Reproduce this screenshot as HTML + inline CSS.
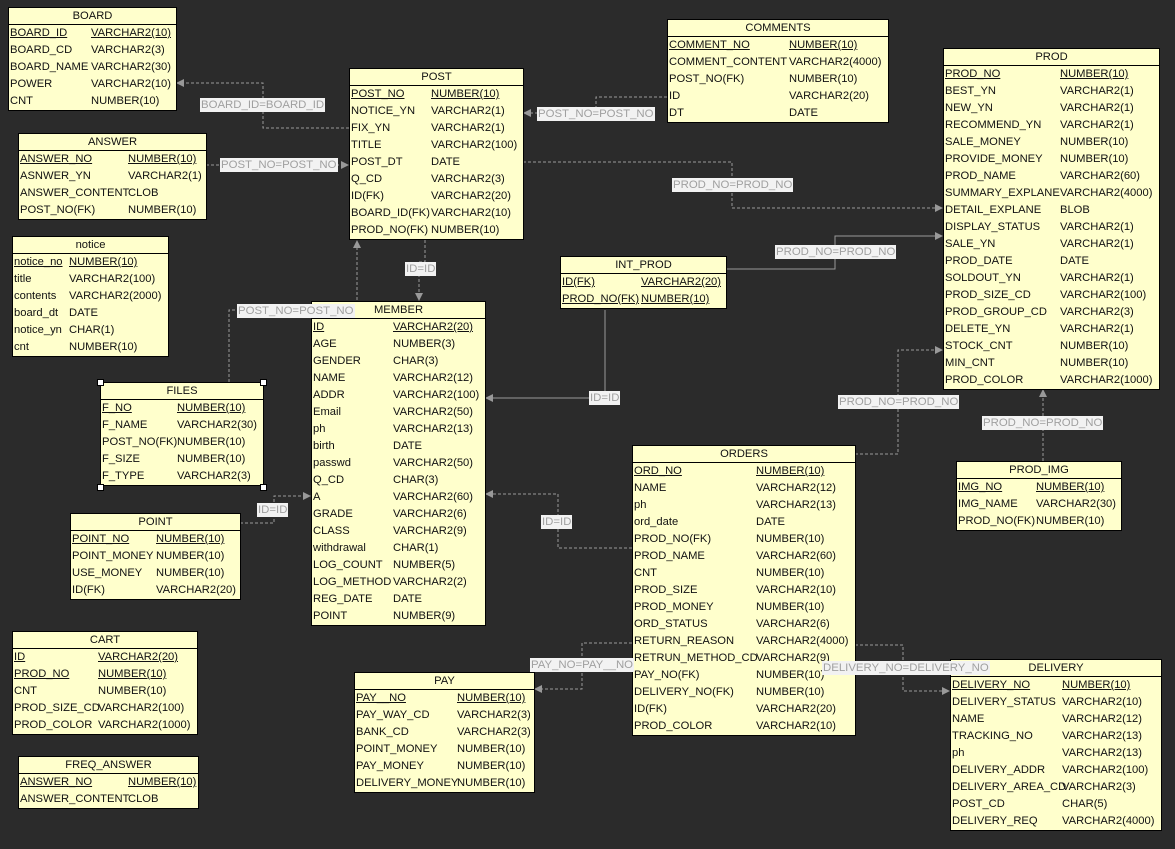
<!DOCTYPE html>
<html><head><meta charset="utf-8"><style>
body{margin:0;width:1175px;height:849px;background:#2b2b2b;position:relative;overflow:hidden;font-family:"Liberation Sans",sans-serif;font-size:11.2px;color:#111}
.t{position:absolute;background:#ffffcc;border:1px solid #000;box-sizing:border-box;z-index:1}
.h{height:16px;line-height:16px;text-align:center;border-bottom:1px solid #000}
.r{height:17px;line-height:17px;white-space:nowrap;position:relative;padding-left:1px}
.r b{font-weight:normal;position:absolute;left:var(--c);top:0}
.u i,.u b{text-decoration:underline}
i{font-style:normal}
.l{position:absolute;background:#f2f2f2;color:#a0a0a0;font-size:11.4px;line-height:14px;padding:0 1px;white-space:nowrap;z-index:2}
svg{position:absolute;left:0;top:0}
.hd{position:absolute;width:5px;height:5px;background:#fff;border:1px solid #000;z-index:2}
</style></head><body>
<svg width="1175" height="849">
<defs><marker id="a" markerWidth="8" markerHeight="8" refX="7" refY="4" orient="auto" markerUnits="userSpaceOnUse"><path d="M0,0 L8,4 L0,8z" fill="#999"/></marker></defs>
<g fill="none" stroke="#999" stroke-width="1" stroke-dasharray="3,2" marker-end="url(#a)">
<polyline points="349,128 263,128 263,83 177,83"/>
<polyline points="206,165 348,165"/>
<polyline points="667,97 596,97 596,113 524,113"/>
<polyline points="523,162 732,162 732,208 942,208"/>
<polyline points="425,240 425,262 419,262 419,300"/>
<polyline points="229,382 229,310 357,310 357,241"/>
<polyline points="240,523 274,523 274,496 310,496"/>
<polyline points="632,548 558,548 558,494 486,494"/>
<polyline points="855,454 898,454 898,350 942,350"/>
<polyline points="1043,461 1043,390"/>
<polyline points="632,643 582,643 582,689 535,689"/>
<polyline points="855,645 903,645 903,691 949,691"/>
</g>
<g fill="none" stroke="#999" stroke-width="1" marker-end="url(#a)">
<polyline points="726,269 835,269 835,236 942,236"/>
<polyline points="605,310 605,398 486,398"/>
</g>
</svg>

<div class="l" style="left:200px;top:98px">BOARD_ID=BOARD_ID</div>
<div class="l" style="left:220px;top:158px">POST_NO=POST_NO</div>
<div class="l" style="left:537px;top:107px">POST_NO=POST_NO</div>
<div class="l" style="left:672px;top:178px">PROD_NO=PROD_NO</div>
<div class="l" style="left:775px;top:245px">PROD_NO=PROD_NO</div>
<div class="l" style="left:405px;top:262px">ID=ID</div>
<div class="l" style="left:237px;top:304px">POST_NO=POST_NO</div>
<div class="l" style="left:589px;top:391px">ID=ID</div>
<div class="l" style="left:838px;top:395px">PROD_NO=PROD_NO</div>
<div class="l" style="left:982px;top:416px">PROD_NO=PROD_NO</div>
<div class="l" style="left:257px;top:503px">ID=ID</div>
<div class="l" style="left:541px;top:515px">ID=ID</div>
<div class="l" style="left:530px;top:658px">PAY_NO=PAY__NO</div>
<div class="l" style="left:822px;top:661px">DELIVERY_NO=DELIVERY_NO</div>

<div class="t" style="left:8px;top:7px;width:169px;--c:82px"><div class="h">BOARD</div>
<div class="r u"><i>BOARD_ID</i><b>VARCHAR2(10)</b></div>
<div class="r"><i>BOARD_CD</i><b>VARCHAR2(3)</b></div>
<div class="r"><i>BOARD_NAME</i><b>VARCHAR2(30)</b></div>
<div class="r"><i>POWER</i><b>VARCHAR2(10)</b></div>
<div class="r"><i>CNT</i><b>NUMBER(10)</b></div></div>

<div class="t" style="left:18px;top:133px;width:189px;--c:109px"><div class="h">ANSWER</div>
<div class="r u"><i>ANSWER_NO</i><b>NUMBER(10)</b></div>
<div class="r"><i>ASNWER_YN</i><b>VARCHAR2(1)</b></div>
<div class="r"><i>ANSWER_CONTENT</i><b>CLOB</b></div>
<div class="r"><i>POST_NO(FK)</i><b>NUMBER(10)</b></div></div>

<div class="t" style="left:12px;top:236px;width:157px;--c:56px"><div class="h">notice</div>
<div class="r u"><i>notice_no</i><b>NUMBER(10)</b></div>
<div class="r"><i>title</i><b>VARCHAR2(100)</b></div>
<div class="r"><i>contents</i><b>VARCHAR2(2000)</b></div>
<div class="r"><i>board_dt</i><b>DATE</b></div>
<div class="r"><i>notice_yn</i><b>CHAR(1)</b></div>
<div class="r"><i>cnt</i><b>NUMBER(10)</b></div></div>

<div class="t" style="left:100px;top:382px;width:164px;--c:76px"><div class="h">FILES</div>
<div class="r u"><i>F_NO</i><b>NUMBER(10)</b></div>
<div class="r"><i>F_NAME</i><b>VARCHAR2(30)</b></div>
<div class="r"><i>POST_NO(FK)</i><b>NUMBER(10)</b></div>
<div class="r"><i>F_SIZE</i><b>NUMBER(10)</b></div>
<div class="r"><i>F_TYPE</i><b>VARCHAR2(3)</b></div></div>
<div class="hd" style="left:97px;top:379px"></div><div class="hd" style="left:260px;top:379px"></div>
<div class="hd" style="left:97px;top:484px"></div><div class="hd" style="left:260px;top:484px"></div>

<div class="t" style="left:70px;top:513px;width:171px;--c:85px"><div class="h">POINT</div>
<div class="r u"><i>POINT_NO</i><b>NUMBER(10)</b></div>
<div class="r"><i>POINT_MONEY</i><b>NUMBER(10)</b></div>
<div class="r"><i>USE_MONEY</i><b>NUMBER(10)</b></div>
<div class="r"><i>ID(FK)</i><b>VARCHAR2(20)</b></div></div>

<div class="t" style="left:12px;top:631px;width:186px;--c:85px"><div class="h">CART</div>
<div class="r u"><i>ID</i><b>VARCHAR2(20)</b></div>
<div class="r u"><i>PROD_NO</i><b>NUMBER(10)</b></div>
<div class="r"><i>CNT</i><b>NUMBER(10)</b></div>
<div class="r"><i>PROD_SIZE_CD</i><b>VARCHAR2(100)</b></div>
<div class="r"><i>PROD_COLOR</i><b>VARCHAR2(1000)</b></div></div>

<div class="t" style="left:18px;top:756px;width:181px;--c:109px"><div class="h">FREQ_ANSWER</div>
<div class="r u"><i>ANSWER_NO</i><b>NUMBER(10)</b></div>
<div class="r"><i>ANSWER_CONTENT</i><b>CLOB</b></div></div>

<div class="t" style="left:349px;top:68px;width:175px;--c:81px"><div class="h">POST</div>
<div class="r u"><i>POST_NO</i><b>NUMBER(10)</b></div>
<div class="r"><i>NOTICE_YN</i><b>VARCHAR2(1)</b></div>
<div class="r"><i>FIX_YN</i><b>VARCHAR2(1)</b></div>
<div class="r"><i>TITLE</i><b>VARCHAR2(100)</b></div>
<div class="r"><i>POST_DT</i><b>DATE</b></div>
<div class="r"><i>Q_CD</i><b>VARCHAR2(3)</b></div>
<div class="r"><i>ID(FK)</i><b>VARCHAR2(20)</b></div>
<div class="r"><i>BOARD_ID(FK)</i><b>VARCHAR2(10)</b></div>
<div class="r"><i>PROD_NO(FK)</i><b>NUMBER(10)</b></div></div>

<div class="t" style="left:667px;top:19px;width:222px;--c:121px"><div class="h">COMMENTS</div>
<div class="r u"><i>COMMENT_NO</i><b>NUMBER(10)</b></div>
<div class="r"><i>COMMENT_CONTENT</i><b>VARCHAR2(4000)</b></div>
<div class="r"><i>POST_NO(FK)</i><b>NUMBER(10)</b></div>
<div class="r"><i>ID</i><b>VARCHAR2(20)</b></div>
<div class="r"><i>DT</i><b>DATE</b></div></div>

<div class="t" style="left:943px;top:48px;width:217px;--c:116px"><div class="h">PROD</div>
<div class="r u"><i>PROD_NO</i><b>NUMBER(10)</b></div>
<div class="r"><i>BEST_YN</i><b>VARCHAR2(1)</b></div>
<div class="r"><i>NEW_YN</i><b>VARCHAR2(1)</b></div>
<div class="r"><i>RECOMMEND_YN</i><b>VARCHAR2(1)</b></div>
<div class="r"><i>SALE_MONEY</i><b>NUMBER(10)</b></div>
<div class="r"><i>PROVIDE_MONEY</i><b>NUMBER(10)</b></div>
<div class="r"><i>PROD_NAME</i><b>VARCHAR2(60)</b></div>
<div class="r"><i>SUMMARY_EXPLANE</i><b>VARCHAR2(4000)</b></div>
<div class="r"><i>DETAIL_EXPLANE</i><b>BLOB</b></div>
<div class="r"><i>DISPLAY_STATUS</i><b>VARCHAR2(1)</b></div>
<div class="r"><i>SALE_YN</i><b>VARCHAR2(1)</b></div>
<div class="r"><i>PROD_DATE</i><b>DATE</b></div>
<div class="r"><i>SOLDOUT_YN</i><b>VARCHAR2(1)</b></div>
<div class="r"><i>PROD_SIZE_CD</i><b>VARCHAR2(100)</b></div>
<div class="r"><i>PROD_GROUP_CD</i><b>VARCHAR2(3)</b></div>
<div class="r"><i>DELETE_YN</i><b>VARCHAR2(1)</b></div>
<div class="r"><i>STOCK_CNT</i><b>NUMBER(10)</b></div>
<div class="r"><i>MIN_CNT</i><b>NUMBER(10)</b></div>
<div class="r"><i>PROD_COLOR</i><b>VARCHAR2(1000)</b></div></div>

<div class="t" style="left:560px;top:256px;width:167px;--c:80px"><div class="h">INT_PROD</div>
<div class="r u"><i>ID(FK)</i><b>VARCHAR2(20)</b></div>
<div class="r u"><i>PROD_NO(FK)</i><b>NUMBER(10)</b></div></div>

<div class="t" style="left:311px;top:301px;width:175px;--c:81px"><div class="h">MEMBER</div>
<div class="r u"><i>ID</i><b>VARCHAR2(20)</b></div>
<div class="r"><i>AGE</i><b>NUMBER(3)</b></div>
<div class="r"><i>GENDER</i><b>CHAR(3)</b></div>
<div class="r"><i>NAME</i><b>VARCHAR2(12)</b></div>
<div class="r"><i>ADDR</i><b>VARCHAR2(100)</b></div>
<div class="r"><i>Email</i><b>VARCHAR2(50)</b></div>
<div class="r"><i>ph</i><b>VARCHAR2(13)</b></div>
<div class="r"><i>birth</i><b>DATE</b></div>
<div class="r"><i>passwd</i><b>VARCHAR2(50)</b></div>
<div class="r"><i>Q_CD</i><b>CHAR(3)</b></div>
<div class="r"><i>A</i><b>VARCHAR2(60)</b></div>
<div class="r"><i>GRADE</i><b>VARCHAR2(6)</b></div>
<div class="r"><i>CLASS</i><b>VARCHAR2(9)</b></div>
<div class="r"><i>withdrawal</i><b>CHAR(1)</b></div>
<div class="r"><i>LOG_COUNT</i><b>NUMBER(5)</b></div>
<div class="r"><i>LOG_METHOD</i><b>VARCHAR2(2)</b></div>
<div class="r"><i>REG_DATE</i><b>DATE</b></div>
<div class="r"><i>POINT</i><b>NUMBER(9)</b></div></div>

<div class="t" style="left:632px;top:445px;width:224px;--c:123px"><div class="h">ORDERS</div>
<div class="r u"><i>ORD_NO</i><b>NUMBER(10)</b></div>
<div class="r"><i>NAME</i><b>VARCHAR2(12)</b></div>
<div class="r"><i>ph</i><b>VARCHAR2(13)</b></div>
<div class="r"><i>ord_date</i><b>DATE</b></div>
<div class="r"><i>PROD_NO(FK)</i><b>NUMBER(10)</b></div>
<div class="r"><i>PROD_NAME</i><b>VARCHAR2(60)</b></div>
<div class="r"><i>CNT</i><b>NUMBER(10)</b></div>
<div class="r"><i>PROD_SIZE</i><b>VARCHAR2(10)</b></div>
<div class="r"><i>PROD_MONEY</i><b>NUMBER(10)</b></div>
<div class="r"><i>ORD_STATUS</i><b>VARCHAR2(6)</b></div>
<div class="r"><i>RETURN_REASON</i><b>VARCHAR2(4000)</b></div>
<div class="r"><i>RETRUN_METHOD_CD</i><b>VARCHAR2(9)</b></div>
<div class="r"><i>PAY_NO(FK)</i><b>NUMBER(10)</b></div>
<div class="r"><i>DELIVERY_NO(FK)</i><b>NUMBER(10)</b></div>
<div class="r"><i>ID(FK)</i><b>VARCHAR2(20)</b></div>
<div class="r"><i>PROD_COLOR</i><b>VARCHAR2(10)</b></div></div>

<div class="t" style="left:956px;top:461px;width:166px;--c:79px"><div class="h">PROD_IMG</div>
<div class="r u"><i>IMG_NO</i><b>NUMBER(10)</b></div>
<div class="r"><i>IMG_NAME</i><b>VARCHAR2(30)</b></div>
<div class="r"><i>PROD_NO(FK)</i><b>NUMBER(10)</b></div></div>

<div class="t" style="left:354px;top:672px;width:181px;--c:102px"><div class="h">PAY</div>
<div class="r u"><i>PAY__NO</i><b>NUMBER(10)</b></div>
<div class="r"><i>PAY_WAY_CD</i><b>VARCHAR2(3)</b></div>
<div class="r"><i>BANK_CD</i><b>VARCHAR2(3)</b></div>
<div class="r"><i>POINT_MONEY</i><b>NUMBER(10)</b></div>
<div class="r"><i>PAY_MONEY</i><b>NUMBER(10)</b></div>
<div class="r"><i>DELIVERY_MONEY</i><b>NUMBER(10)</b></div></div>

<div class="t" style="left:950px;top:659px;width:212px;--c:111px"><div class="h">DELIVERY</div>
<div class="r u"><i>DELIVERY_NO</i><b>NUMBER(10)</b></div>
<div class="r"><i>DELIVERY_STATUS</i><b>VARCHAR2(10)</b></div>
<div class="r"><i>NAME</i><b>VARCHAR2(12)</b></div>
<div class="r"><i>TRACKING_NO</i><b>VARCHAR2(13)</b></div>
<div class="r"><i>ph</i><b>VARCHAR2(13)</b></div>
<div class="r"><i>DELIVERY_ADDR</i><b>VARCHAR2(100)</b></div>
<div class="r"><i>DELIVERY_AREA_CD</i><b>VARCHAR2(3)</b></div>
<div class="r"><i>POST_CD</i><b>CHAR(5)</b></div>
<div class="r"><i>DELIVERY_REQ</i><b>VARCHAR2(4000)</b></div></div>
</body></html>
